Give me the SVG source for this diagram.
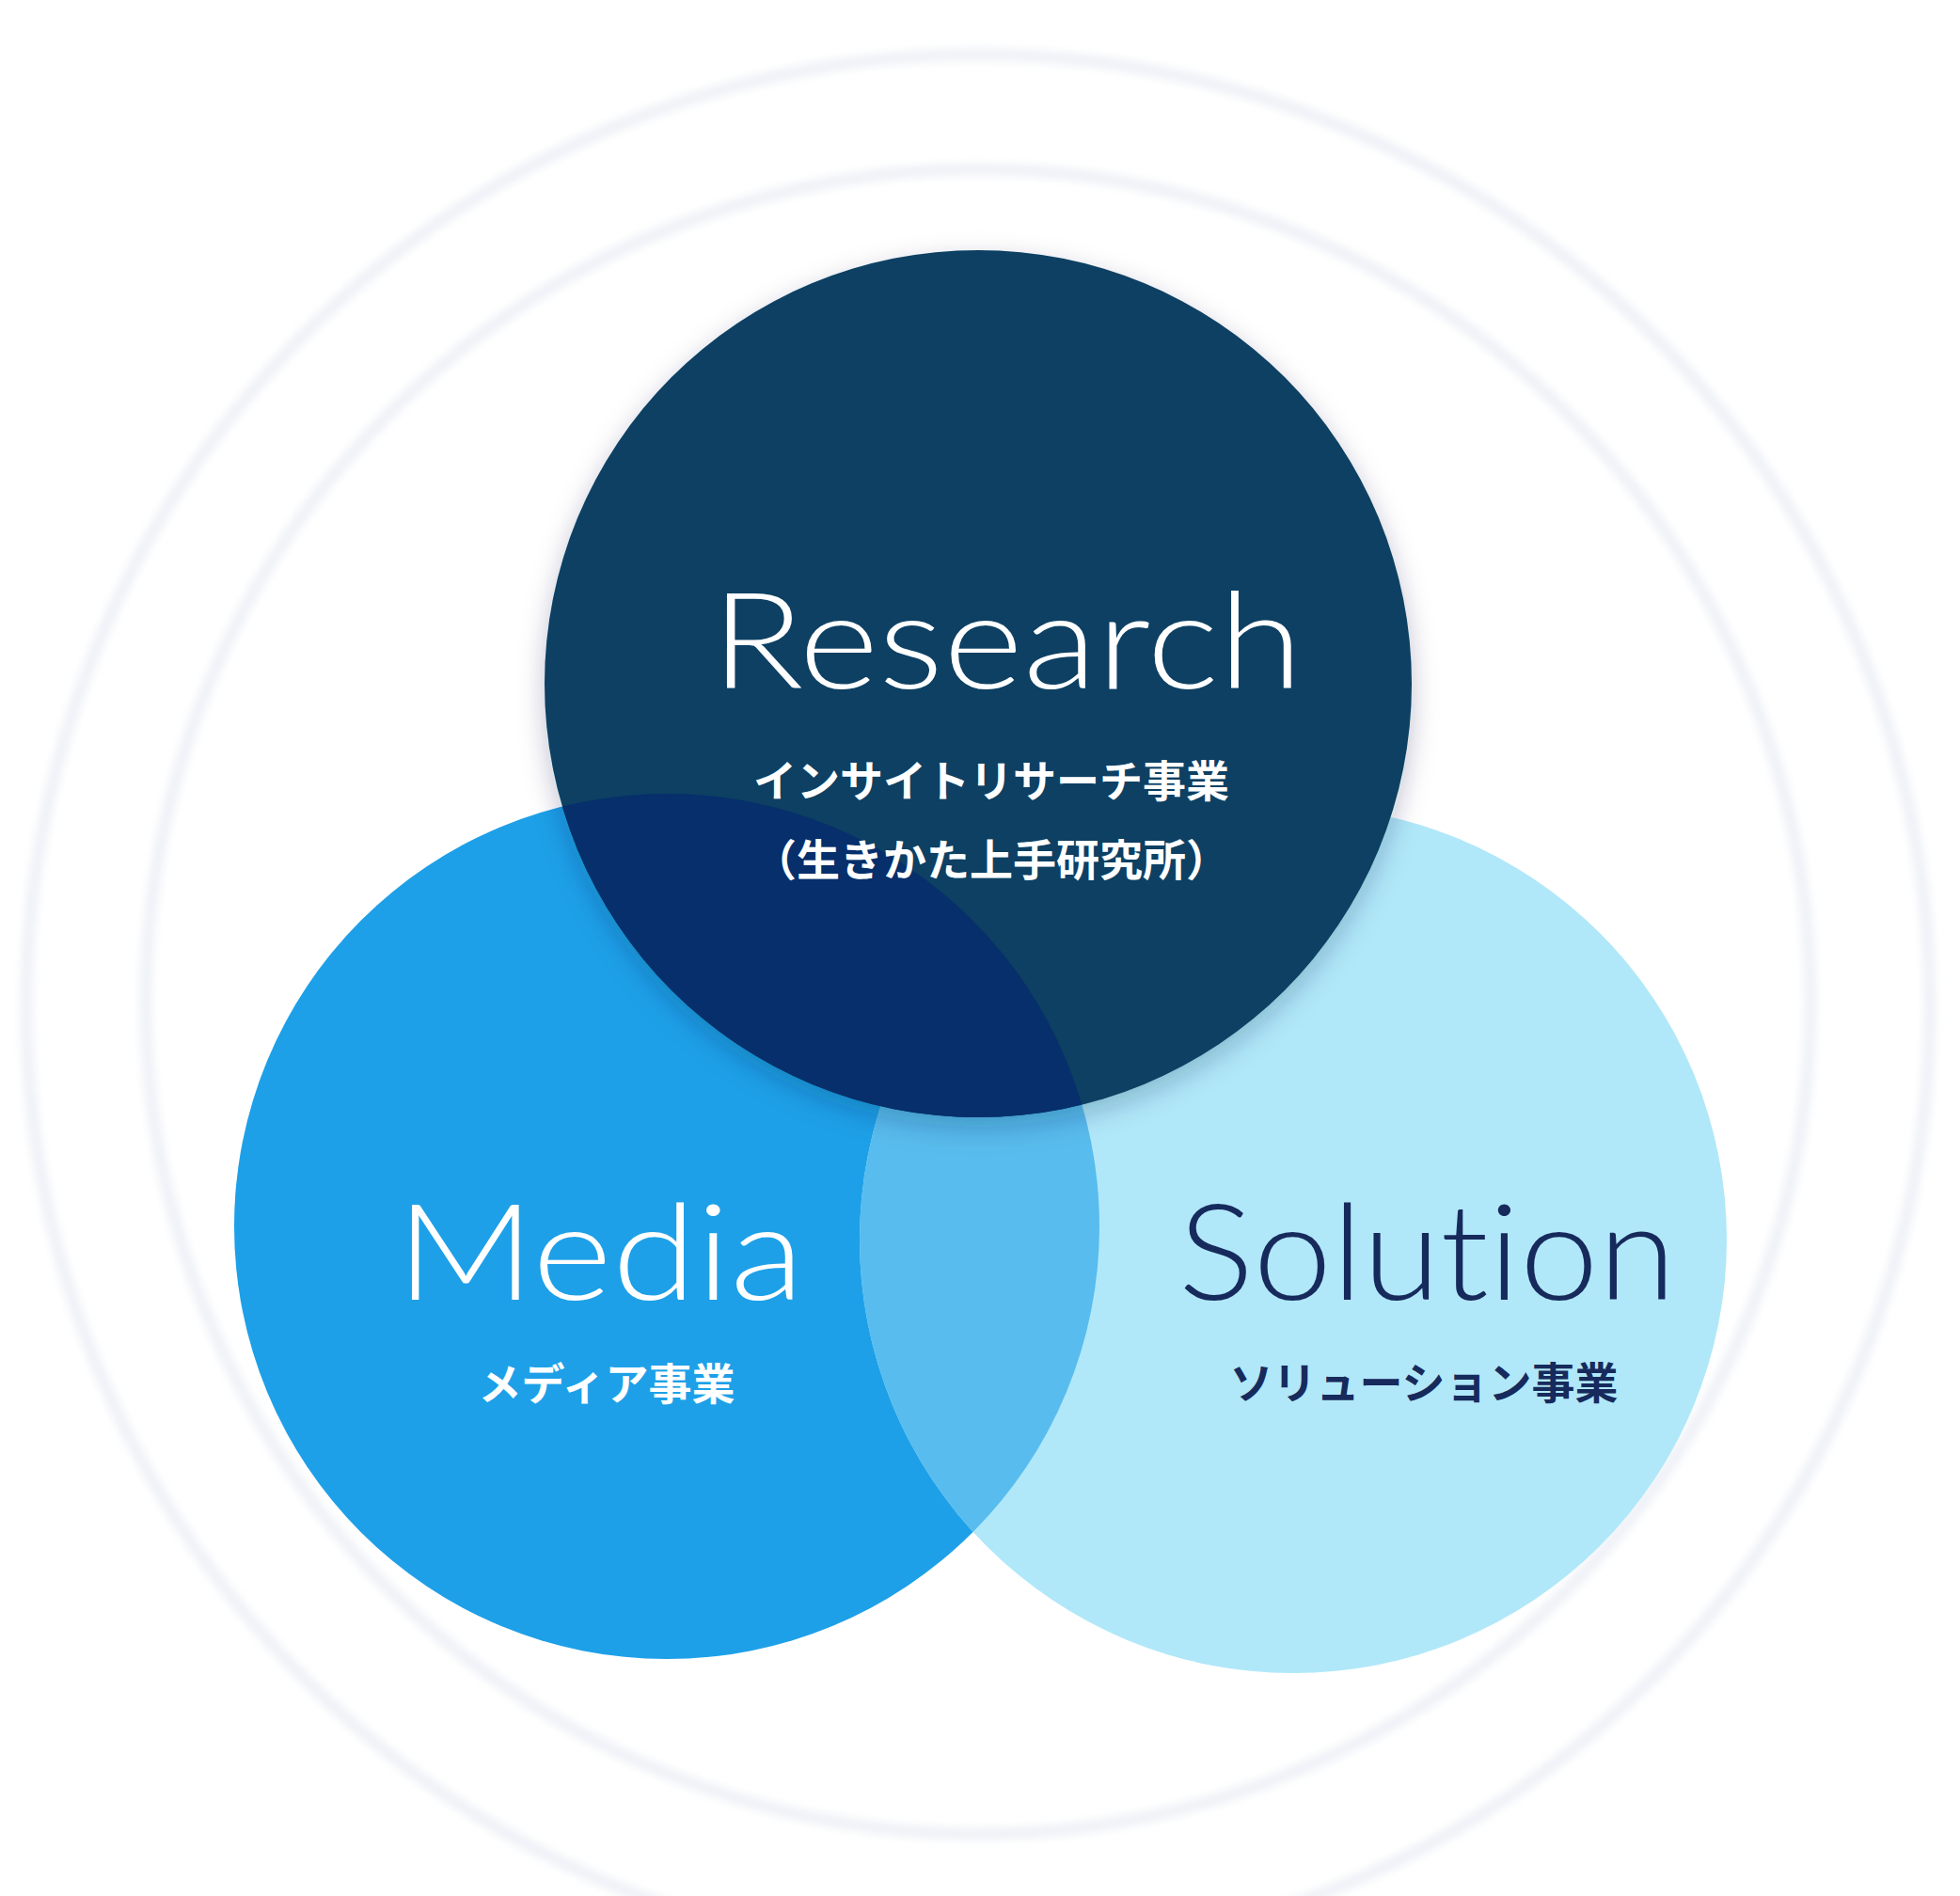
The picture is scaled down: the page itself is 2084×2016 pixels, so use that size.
<svg xmlns="http://www.w3.org/2000/svg" width="2084" height="2016" viewBox="0 0 2084 2016">
  <style>
    .title { font-family: Lato, "Noto Sans", "Liberation Sans", sans-serif; font-weight: 300; font-size: 142px; font-variant-ligatures: none; font-feature-settings: "liga" 0; }
    .jp { font-family: "Noto Sans CJK JP", "Noto Sans", sans-serif; font-weight: 700; font-size: 46px; text-anchor: middle; }
    .light { fill: #ffffff; }
    .dark { fill: #172a5c; }
    .ring { fill: none; stroke: #edf0f6; stroke-width: 12; }
  </style>
  <defs>
    <filter id="blur" x="-10%" y="-10%" width="120%" height="120%">
      <feGaussianBlur stdDeviation="5"/>
    </filter>
    <filter id="shadow" x="-20%" y="-20%" width="140%" height="140%">
      <feDropShadow dx="0" dy="10" stdDeviation="14" flood-color="#00204a" flood-opacity="0.25"/>
    </filter>
    <clipPath id="clipMedia">
      <circle cx="709" cy="1304" r="460"/>
    </clipPath>
  </defs>
  <rect x="0" y="0" width="2084" height="2016" fill="#ffffff"/>

  <g id="background-rings" filter="url(#blur)">
    <circle class="ring" cx="1040" cy="1070" r="1012"/>
    <circle class="ring" cx="1040" cy="1065" r="885"/>
  </g>

  <g id="node-media">
    <circle cx="709" cy="1304" r="460" fill="#1da0e8"/>
  </g>

  <g id="node-solution">
    <circle cx="1375" cy="1318" r="461" fill="#b0e8f9"/>
    <circle cx="1375" cy="1318" r="461" fill="#58bcee" clip-path="url(#clipMedia)"/>
  </g>

  <g id="node-research">
    <circle cx="1040" cy="727" r="461" fill="#0a4064" filter="url(#shadow)"/>
    <circle cx="1040" cy="727" r="461" fill="#062f6b" clip-path="url(#clipMedia)"/>
  </g>

  <g id="connectors"></g>

  <g id="labels">
    <text class="title light" x="756" y="732" textLength="629" lengthAdjust="spacingAndGlyphs">Research</text>
    <text class="jp light" x="1054" y="847">インサイトリサーチ事業</text>
    <text class="jp light" x="1054" y="931">（生きかた上手研究所）</text>

    <text class="title light" x="421" y="1382" textLength="434" lengthAdjust="spacingAndGlyphs">Media</text>
    <text class="jp light" x="645" y="1488">メディア事業</text>

    <text class="title dark" x="1253" y="1382" textLength="529" lengthAdjust="spacingAndGlyphs">Solution</text>
    <text class="jp dark" x="1514" y="1487">ソリューション事業</text>
  </g>
</svg>
